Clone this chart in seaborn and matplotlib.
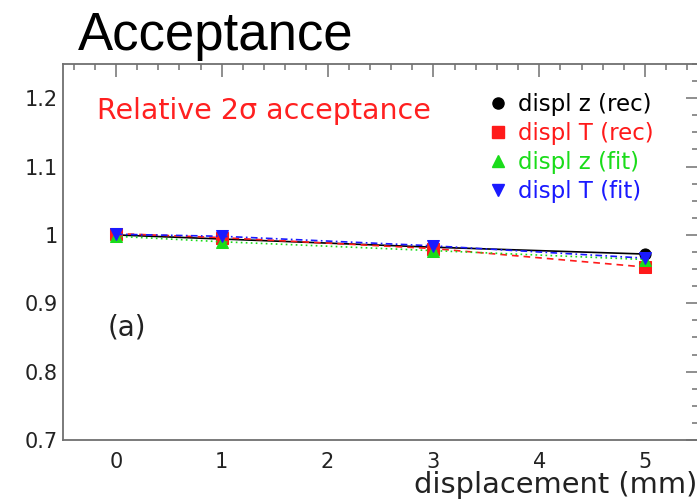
import matplotlib
matplotlib.use("Agg")
import matplotlib.pyplot as plt
from matplotlib.lines import Line2D
from matplotlib.ticker import MultipleLocator
import seaborn as sns
import pandas as pd

# displacement values (mm) and relative 2-sigma acceptance per method
displacement = [0, 1, 3, 5]
displ_z_rec = [1.000, 0.994, 0.982, 0.972]
displ_T_rec = [1.002, 0.996, 0.980, 0.953]
displ_z_fit = [0.998, 0.990, 0.977, 0.964]
displ_T_fit = [1.001, 0.998, 0.984, 0.966]

series_labels = ["displ z (rec)", "displ T (rec)", "displ z (fit)", "displ T (fit)"]
series_values = [displ_z_rec, displ_T_rec, displ_z_fit, displ_T_fit]
series_colors = ["black", "#ff1a1a", "#1adc1a", "#1a1aff"]
series_markers = ["o", "s", "^", "v"]
series_styles = ["-", (0, (4, 3)), (0, (1, 2)), (0, (4, 2, 1, 2))]

sns.set_style("white")
plt.rcParams["font.family"] = ["DejaVu Sans"]

fig = plt.figure(figsize=(6.97, 5.0), dpi=100)
ax = fig.add_axes([63 / 697, 60 / 500, 635 / 697, 376 / 500])

for lab, vals, col, mk, ls in zip(series_labels, series_values, series_colors,
                                  series_markers, series_styles):
    df = pd.DataFrame({"x": displacement, "y": vals})
    sns.lineplot(data=df, x="x", y="y", ax=ax, color=col, marker=mk,
                 markersize=8, markeredgecolor=col, linewidth=1.2,
                 linestyle=ls, legend=False)

ax.set_xlim(-0.5, 5.5)
ax.set_ylim(0.7, 1.25)
ax.xaxis.set_minor_locator(MultipleLocator(0.2))
ax.yaxis.set_minor_locator(MultipleLocator(0.025))
ax.set_yticks([0.7, 0.8, 0.9, 1.0, 1.1, 1.2])
ax.set_yticklabels(["0.7", "0.8", "0.9", "1", "1.1", "1.2"])
ax.set_xticks([0, 1, 2, 3, 4, 5])
ax.set_xticklabels(["0", "1", "2", "3", "4", "5"])

spine_col = "#707070"
for s in ax.spines.values():
    s.set_color(spine_col)
    s.set_linewidth(1.3)
    s.set_visible(True)
ax.tick_params(which="both", direction="in", top=True, right=True,
               color=spine_col, width=1.1, labelsize=15, labelcolor="#222222")
ax.tick_params(which="major", length=9)
ax.tick_params(which="minor", length=4.5)
ax.tick_params(axis="x", which="major", pad=9)
ax.tick_params(axis="y", which="major", pad=4)

ax.set_xlabel("")
ax.set_ylabel("")
fig.text(697 / 697, 1 - 493 / 500, "displacement (mm)", ha="right",
         va="baseline", fontsize=20.8, color="#222222")

ax.text(0.054, 0.875, "Relative 2σ acceptance", transform=ax.transAxes,
        color="#ff2020", fontsize=20.5, ha="left", va="center")
ax.text(0.070, 0.298, "(a)", transform=ax.transAxes, color="#222222",
        fontsize=20, ha="left", va="center")

handles = [Line2D([], [], color=c, marker=m, linestyle="none", markersize=8)
           for c, m in zip(series_colors, series_markers)]
ax.legend(handles, series_labels, loc="upper left",
          bbox_to_anchor=(0.66, 0.947), frameon=False, fontsize=16.5,
          labelcolor=series_colors, handlelength=0.6, handletextpad=0.55,
          labelspacing=0.26, borderaxespad=0)

fig.text(78 / 697, 1 - 50 / 500, "Acceptance", fontsize=38,
         family="Liberation Sans", ha="left", va="baseline", color="black")

fig.savefig("out.png", dpi=100, facecolor="white")
